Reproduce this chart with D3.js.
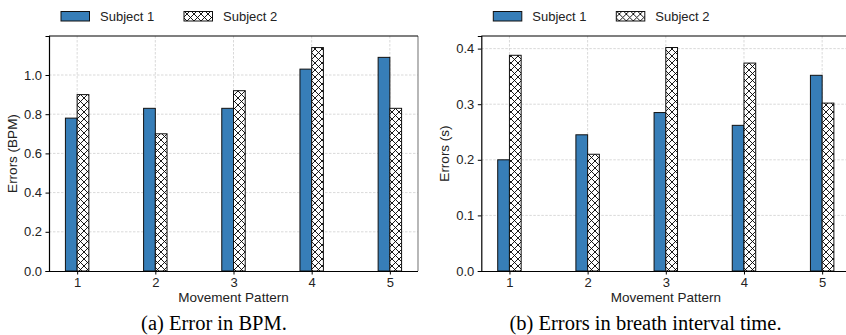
<!DOCTYPE html>
<html>
<head>
<meta charset="utf-8">
<script src="https://cdn.jsdelivr.net/npm/d3@7/dist/d3.min.js"></script>
<style>
  body { margin: 0; background: #fff; }
  svg { display: block; font-family: "Liberation Sans", Arial, sans-serif; }
</style>
</head>
<body>
<div id="chart"></div>
<script>
// values
const patterns = [1, 2, 3, 4, 5];
const seriesNames = ["Subject 1", "Subject 2"];
const bpmSubject1 = [0.78, 0.83, 0.83, 1.03, 1.09];
const bpmSubject2 = [0.90, 0.70, 0.92, 1.14, 0.83];
const intervalSubject1 = [0.200, 0.245, 0.285, 0.262, 0.352];
const intervalSubject2 = [0.388, 0.210, 0.402, 0.374, 0.302];
const bpmTicks = [0.0, 0.2, 0.4, 0.6, 0.8, 1.0];
const intervalTicks = [0.0, 0.1, 0.2, 0.3, 0.4];

const width = 846, height = 335;
const blue = "#377eb8";

const svg = d3.select("#chart").append("svg")
    .attr("width", width)
    .attr("height", height);

// crosshatch fill for subject 2
const defs = svg.append("defs");
const hatch = defs.append("pattern")
    .attr("id", "xhatch")
    .attr("patternUnits", "userSpaceOnUse")
    .attr("width", 7)
    .attr("height", 7);
hatch.append("rect").attr("width", 7).attr("height", 7).attr("fill", "#fff");
hatch.append("path")
    .attr("d", "M0,0L7,7M7,0L0,7M-1,6L1,8M6,-1L8,1M-1,1L1,-1M6,8L8,6")
    .attr("stroke", "#000")
    .attr("stroke-width", 0.9);

function drawPanel(p) {
    const g = svg.append("g");
    const x = d3.scaleLinear().domain([0.64, 5.36]).range([p.left, p.left + 369]);
    const y = d3.scaleLinear().domain([0, p.ymax]).range([271, 36]);
    const bw = x(0.15) - x(0);

    // grid
    g.append("g").selectAll("line.gy")
        .data(p.ticks.slice(1))
        .join("line")
        .attr("x1", p.left).attr("x2", p.left + 369)
        .attr("y1", d => y(d)).attr("y2", d => y(d))
        .attr("stroke", "#cfcfcf").attr("stroke-dasharray", "2.5,1.5").attr("stroke-width", 0.8);
    g.append("g").selectAll("line.gx")
        .data(patterns)
        .join("line")
        .attr("x1", d => x(d)).attr("x2", d => x(d))
        .attr("y1", 36).attr("y2", 271)
        .attr("stroke", "#cfcfcf").attr("stroke-dasharray", "2.5,1.5").attr("stroke-width", 0.8);

    // bars
    g.append("g").selectAll("rect")
        .data(p.s1)
        .join("rect")
        .attr("x", (d, i) => x(patterns[i]) - bw)
        .attr("y", d => y(d))
        .attr("width", bw)
        .attr("height", d => y(0) - y(d))
        .attr("fill", blue)
        .attr("stroke", "#111").attr("stroke-width", 1);
    g.append("g").selectAll("rect")
        .data(p.s2)
        .join("rect")
        .attr("x", (d, i) => x(patterns[i]))
        .attr("y", d => y(d))
        .attr("width", bw)
        .attr("height", d => y(0) - y(d))
        .attr("fill", "url(#xhatch)")
        .attr("stroke", "#111").attr("stroke-width", 1);

    // frame
    g.append("line").attr("x1", p.left + 369).attr("x2", p.left + 369).attr("y1", 36).attr("y2", 271)
        .attr("stroke", "#888").attr("stroke-width", 1.2);
    g.append("line").attr("x1", p.left).attr("x2", p.left + 369).attr("y1", 36).attr("y2", 36)
        .attr("stroke", "#000").attr("stroke-width", 1.2);

    // axes
    const xAxis = g.append("g")
        .attr("transform", `translate(0,271)`)
        .call(d3.axisBottom(x).tickValues(patterns).tickSize(3.5).tickPadding(3).tickFormat(d3.format("d")));
    const yAxis = g.append("g")
        .attr("transform", `translate(${p.left},0)`)
        .call(d3.axisLeft(y).tickValues(p.ticks).tickSize(3.5).tickPadding(3.5).tickFormat(d3.format(".1f")));
    [xAxis, yAxis].forEach(a => {
        a.select(".domain").attr("stroke", "#000").attr("stroke-width", 1.2);
        a.selectAll("text").attr("font-size", 13).attr("fill", "#222")
            .attr("font-family", "'Liberation Sans', Arial, sans-serif");
    });
    xAxis.select(".domain").attr("d", `M${p.left},0.5H${p.left + 369}`);

    // labels
    g.append("text")
        .attr("x", p.left + 184.5).attr("y", 302)
        .attr("text-anchor", "middle").attr("font-size", 13.5).attr("fill", "#222")
        .text("Movement Pattern");
    g.append("text")
        .attr("transform", `translate(${p.left - 32},153.5) rotate(-90)`)
        .attr("text-anchor", "middle").attr("font-size", 13.5).attr("fill", "#222")
        .text(p.ylabel);

    // legend
    const lg = g.append("g").attr("transform", `translate(${p.left + 12},0)`);
    seriesNames.forEach((name, i) => {
        const ox = i * 123;
        lg.append("rect")
            .attr("x", ox).attr("y", 11.5).attr("width", 28.5).attr("height", 9.5)
            .attr("fill", i === 0 ? blue : "url(#xhatch)")
            .attr("stroke", "#111").attr("stroke-width", 1);
        lg.append("text")
            .attr("x", ox + 39).attr("y", 21)
            .attr("font-size", 13).attr("fill", "#222")
            .text(name);
    });

    // caption
    svg.append("text")
        .attr("x", p.captionX).attr("y", 330)
        .attr("text-anchor", "middle")
        .attr("font-family", "'Liberation Serif', 'Times New Roman', serif")
        .attr("font-size", 20.5).attr("fill", "#000")
        .text(p.caption);
}

drawPanel({
    left: 49, ymax: 1.199, ticks: bpmTicks, s1: bpmSubject1, s2: bpmSubject2,
    ylabel: "Errors (BPM)", caption: "(a) Error in BPM.", captionX: 214
});
drawPanel({
    left: 481.3, ymax: 0.4227, ticks: intervalTicks, s1: intervalSubject1, s2: intervalSubject2,
    ylabel: "Errors (s)", caption: "(b) Errors in breath interval time.", captionX: 645.5
});
</script>
</body>
</html>
